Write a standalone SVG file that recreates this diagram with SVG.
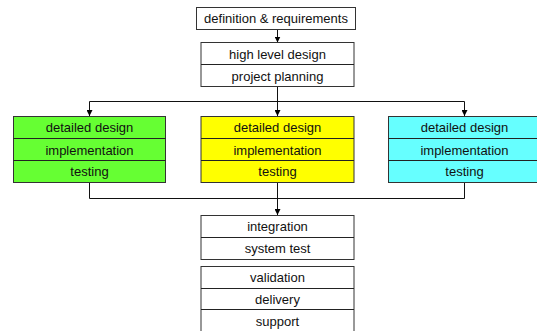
<svg xmlns="http://www.w3.org/2000/svg" width="537" height="331" viewBox="0 0 537 331">
<defs>
<marker id="ah" viewBox="0 0 6 6" refX="6" refY="3" markerWidth="6" markerHeight="6" markerUnits="userSpaceOnUse" orient="auto">
<path d="M0,0 L6,3 L0,6 z" fill="#000"/>
</marker>
<style>
.box{stroke:#333;stroke-width:1;fill:#fff}
.g{fill:#66ff33}.y{fill:#ffff00}.c{fill:#66ffff}
.div{stroke:#222;stroke-width:1}
text{font-family:"Liberation Sans",Arial,sans-serif;font-size:13px;text-anchor:middle;fill:#111}
.con{stroke:#111;stroke-width:1;fill:none}
</style>
</defs>
<rect width="537" height="331" fill="#fff"/>
<g id="connectors">
<path class="con" d="M277.5,29.5 V42.5" marker-end="url(#ah)"/>
<path class="con" d="M277.5,86.5 V116" marker-end="url(#ah)"/>
<path class="con" d="M277.5,101.5 H89.5 V116" marker-end="url(#ah)"/>
<path class="con" d="M277.5,101.5 H464.5 V116" marker-end="url(#ah)"/>
<path class="con" d="M89.5,182.5 V198.5 H464.5 V182.5"/>
<path class="con" d="M277.5,182.5 V215" marker-end="url(#ah)"/>
</g>
<g id="n-def">
<rect class="box" x="196.5" y="7.5" width="159" height="22"/>
<text x="276" y="23">definition &amp; requirements</text>
</g>
<g id="n-hld">
<rect class="box" x="201" y="42.5" width="153" height="44"/>
<line class="div" x1="201" y1="64.5" x2="354" y2="64.5"/>
<text x="277.5" y="59">high level design</text>
<text x="277.5" y="81">project planning</text>
</g>
<g id="n-green">
<rect class="box g" x="13.5" y="116.5" width="152" height="66"/>
<line class="div" x1="13.5" y1="138.5" x2="165.5" y2="138.5"/>
<line class="div" x1="13.5" y1="160.5" x2="165.5" y2="160.5"/>
<text x="89.5" y="132">detailed design</text>
<text x="89.5" y="155">implementation</text>
<text x="89.5" y="176">testing</text>
</g>
<g id="n-yellow">
<rect class="box y" x="201" y="116.5" width="153" height="66"/>
<line class="div" x1="201" y1="138.5" x2="354" y2="138.5"/>
<line class="div" x1="201" y1="160.5" x2="354" y2="160.5"/>
<text x="277.5" y="132">detailed design</text>
<text x="277.5" y="155">implementation</text>
<text x="277.5" y="176">testing</text>
</g>
<g id="n-cyan">
<rect class="box c" x="388.5" y="116.5" width="152" height="66"/>
<line class="div" x1="388.5" y1="138.5" x2="540" y2="138.5"/>
<line class="div" x1="388.5" y1="160.5" x2="540" y2="160.5"/>
<text x="464.5" y="132">detailed design</text>
<text x="464.5" y="155">implementation</text>
<text x="464.5" y="176">testing</text>
</g>
<g id="n-int">
<rect class="box" x="201" y="215.5" width="153" height="44"/>
<line class="div" x1="201" y1="237.5" x2="354" y2="237.5"/>
<text x="277.5" y="231">integration</text>
<text x="277.5" y="253">system test</text>
</g>
<g id="n-val">
<rect class="box" x="201" y="266.5" width="153" height="70"/>
<line class="div" x1="201" y1="288.5" x2="354" y2="288.5"/>
<line class="div" x1="201" y1="309.5" x2="354" y2="309.5"/>
<text x="277.5" y="282">validation</text>
<text x="277.5" y="304">delivery</text>
<text x="277.5" y="326">support</text>
</g>
</svg>
